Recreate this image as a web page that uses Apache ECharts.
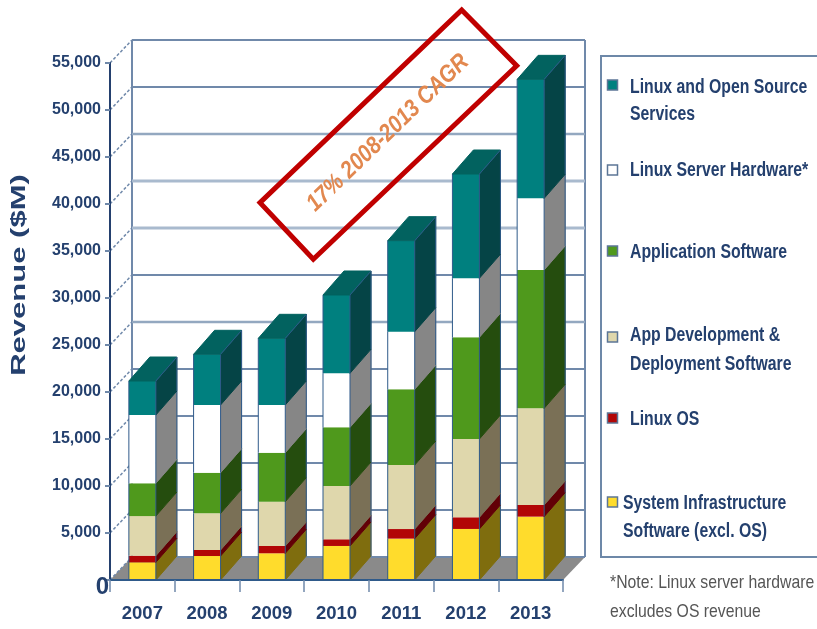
<!DOCTYPE html>
<html><head><meta charset="utf-8">
<style>html,body{margin:0;padding:0;background:#fff}#c{width:817px;height:629px;filter:blur(0.5px)}</style>
<script src="https://cdn.jsdelivr.net/npm/echarts@6/dist/echarts.min.js"></script>
</head><body><div id="c"></div>
<script>
const categories = ['2007','2008','2009','2010','2011','2012','2013'];
const yTicks = [0,5000,10000,15000,20000,25000,30000,35000,40000,45000,50000,55000];
const systemInfra = [1880,2550,2840,3620,4400,5430,6740];
const linuxOS = [710,640,780,710,1020,1240,1240];
const appDev = [4210,3900,4710,5670,6810,8330,10280];
const appSoftware = [3490,4330,5220,6240,8060,10820,14720];
const serverHardware = [7260,7200,5070,5750,6130,6280,7620];
const services = [3620,5390,7090,8330,9680,11090,12660];
const seriesNames = ['System Infrastructure Software (excl. OS)','Linux OS','App Development & Deployment Software','Application Software','Linux Server Hardware*','Linux and Open Source Services'];
const stackValues = [systemInfra,linuxOS,appDev,appSoftware,serverHardware,services];
const frontColors = ['#ffdc2c','#b20606','#dfd7ac','#4f991c','#ffffff','#00807f'];
const sideColors = ['#7f6d0e','#620006','#7a7056','#254d0e','#868686','#054446'];
const topColor = '#02625f';
const legendRows = [
 {lines:['Linux and Open Source','Services'],color:'#00807f',key:85,x:630,y:[87,114]},
 {lines:['Linux Server Hardware*'],color:'#ffffff',key:170,x:630,y:[170]},
 {lines:['Application Software'],color:'#4f991c',key:251,x:630,y:[252]},
 {lines:['App Development &','Deployment Software'],color:'#dfd7ac',key:337,x:630,y:[335,364]},
 {lines:['Linux OS'],color:'#b20606',key:418,x:630,y:[419]},
 {lines:['System Infrastructure','Software (excl. OS)'],color:'#ffdc2c',key:502,x:623,y:[503,531]}
];
const FONT = '"Liberation Sans",sans-serif';
const NAVY = '#24406e', EDGE = '#2f5a8a', WALL = '#7089aa';
const DX = 21, DY = -24, WX = 22, WY = -23;
const wallTone = {25000:['#93a8c0',2.5],35000:['#a9bace',3],40000:['#a9bace',3],45000:['#93a8c0',2.5]};

const chart = echarts.init(document.getElementById('c'));

const wallSeries = {
  type:'custom', name:'wall', silent:true, z:1, clip:false,
  data: yTicks.map(v=>[0,v]), encode:{x:0,y:1},
  renderItem(params,api){
    const cs = params.coordSys, v = api.value(1), y = api.coord([0,v])[1];
    const x0 = cs.x, x1 = cs.x+cs.width;
    const tone = wallTone[v] || [WALL,2];
    const kids = [
      {type:'line',shape:{x1:x0,y1:y,x2:x0+WX,y2:y+WY},style:{stroke:WALL,lineWidth:1.5,lineDash:[3,2]}},
      {type:'line',shape:{x1:x0+WX,y1:y+WY,x2:x1+WX,y2:y+WY},style:{stroke:tone[0],lineWidth:tone[1]}}
    ];
    if(v===0){
      kids.unshift({type:'polygon',shape:{points:[[x0,y],[x1,y],[x1+WX,y+WY],[x0+WX,y+WY]]},style:{fill:'#8a8a8a'}});
      kids.push({type:'line',shape:{x1:x0+WX,y1:cs.y+WY,x2:x0+WX,y2:y+WY},style:{stroke:WALL,lineWidth:2}});
      kids.push({type:'line',shape:{x1:x1+WX,y1:cs.y+WY,x2:x1+WX,y2:y+WY},style:{stroke:WALL,lineWidth:2}});
    }
    return {type:'group',children:kids};
  }
};

const barSeries = stackValues.map((vals,s)=>({
  type:'custom', name:seriesNames[s], z:2, clip:false,
  encode:{x:0,y:2},
  data: vals.map((v,i)=>{
    let base = 0; for(let k=0;k<s;k++) base += stackValues[k][i];
    return [i,base,base+v];
  }),
  renderItem(params,api){
    const i = api.value(0), w = api.size([1,0])[0]*0.417;
    const b = api.coord([i,api.value(1)]), t = api.coord([i,api.value(2)]);
    const l = b[0]-w/2, r = b[0]+w/2;
    const line = {stroke:EDGE,lineWidth:1,lineJoin:'round'};
    const kids = [
      {type:'polygon',shape:{points:[[r,b[1]],[r+DX,b[1]+DY],[r+DX,t[1]+DY],[r,t[1]]]},style:{fill:sideColors[s],...line,stroke:sideColors[s]}},
      {type:'rect',shape:{x:l,y:t[1],width:w,height:b[1]-t[1]},style:{fill:frontColors[s],stroke:null}},
      {type:'line',shape:{x1:l,y1:b[1],x2:l,y2:t[1]},style:line},
      {type:'line',shape:{x1:r,y1:b[1],x2:r,y2:t[1]},style:line},
      {type:'line',shape:{x1:r+DX,y1:b[1]+DY,x2:r+DX,y2:t[1]+DY},style:line}
    ];
    if(s===stackValues.length-1){
      kids.push({type:'polygon',shape:{points:[[l,t[1]],[r,t[1]],[r+DX,t[1]+DY],[l+DX,t[1]+DY]]},style:{fill:topColor,stroke:topColor,lineWidth:1}});
      kids.push({type:'line',shape:{x1:r,y1:t[1],x2:r+DX,y2:t[1]+DY},style:line});
    }
    return {type:'group',children:kids};
  }
}));

const graphics = [
  {type:'rect',z:50,shape:{x:601,y:56,width:240,height:501},style:{fill:'#fff',stroke:'#6d88a8',lineWidth:2}},
  {type:'polygon',z:60,shape:{points:[[461.7,10],[516.7,65.7],[313.3,259.3],[260,202.7]]},style:{fill:null,stroke:'#c00000',lineWidth:5,lineJoin:'miter'}},
  {type:'text',z:60,x:388,y:133,rotation:Math.PI*44/180,scaleX:0.87,
   style:{text:'17% 2008-2013 CAGR',fill:'#e2884f',font:'italic bold 24px '+FONT,align:'center',verticalAlign:'middle'}},
  {type:'text',z:60,x:19,y:275,rotation:Math.PI/2,scaleX:1.55,
   style:{text:'Revenue ($M)',fill:NAVY,font:'bold 20px '+FONT,align:'center',verticalAlign:'middle'}},
  {type:'text',z:60,x:610,y:583,scaleX:0.83,style:{text:'*Note: Linux server hardware',fill:'#555',font:'19px '+FONT,verticalAlign:'middle'}},
  {type:'text',z:60,x:610,y:612,scaleX:0.83,style:{text:'excludes OS revenue',fill:'#555',font:'19px '+FONT,verticalAlign:'middle'}}
];
legendRows.forEach(r=>{
  graphics.push({type:'rect',z:60,shape:{x:607.5,y:r.key-5,width:10,height:10},style:{fill:r.color,stroke:'#5c7696',lineWidth:1.5}});
  r.lines.forEach((t,k)=>graphics.push({type:'text',z:60,x:r.x,y:r.y[k],scaleX:0.79,style:{text:t,fill:NAVY,font:'bold 20px '+FONT,verticalAlign:'middle'}}));
});

chart.setOption({
  animation:false,
  backgroundColor:'#fff',
  grid:{left:110,right:254,top:63,bottom:49},
  xAxis:{type:'category',data:categories,boundaryGap:true,
    axisLine:{show:true,lineStyle:{color:EDGE,width:2}},
    axisTick:{show:true,alignWithLabel:false,length:12,lineStyle:{color:WALL,width:1.5}},
    axisLabel:{color:NAVY,fontFamily:FONT,fontWeight:'bold',fontSize:18.5,margin:24,interval:0},
    z:5},
  yAxis:{type:'value',min:0,max:55000,interval:5000,
    axisLine:{show:true,lineStyle:{color:NAVY,width:2}},
    axisTick:{show:true,length:5,lineStyle:{color:WALL,width:2}},
    splitLine:{show:false},
    axisLabel:{color:NAVY,fontFamily:FONT,fontWeight:'bold',fontSize:16,margin:9,
      formatter:v=>v===0?'{z|0}':v.toLocaleString('en-US'),
      rich:{z:{fontFamily:FONT,fontWeight:'bold',fontSize:24,color:NAVY,padding:[14,-8,0,0]}}},
    z:5},
  series:[wallSeries,...barSeries],
  graphic:graphics
});
</script></body></html>
